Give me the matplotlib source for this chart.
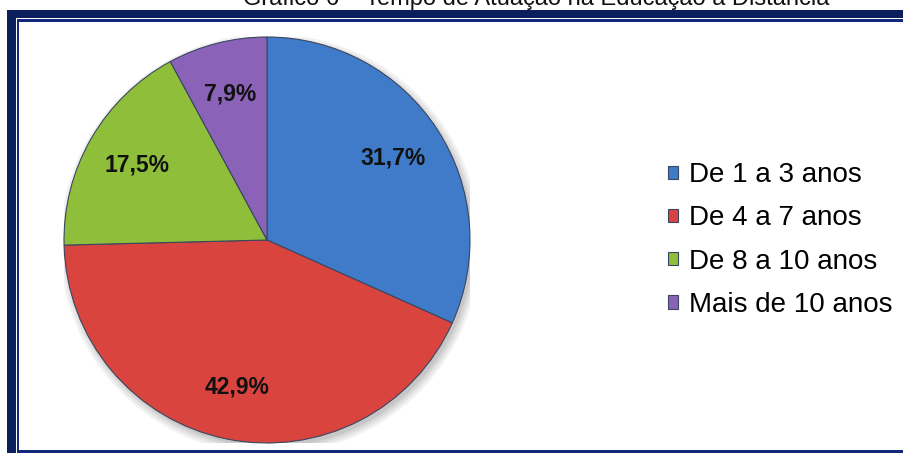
import matplotlib
matplotlib.use("Agg")
import matplotlib.pyplot as plt
from matplotlib.patches import Rectangle, Circle

plt.rcParams['font.family'] = ['Liberation Sans', 'DejaVu Sans']

categorias = ["De 1 a 3 anos", "De 4 a 7 anos", "De 8 a 10 anos", "Mais de 10 anos"]
percentuais = [31.7, 42.9, 17.5, 7.9]
cores = ["#3f7bc8", "#d9443f", "#8fbf3a", "#8a62b8"]
titulo = "Gráfico 6 – Tempo de Atuação na Educação a Distância"

W, H = 904, 453
fig = plt.figure(figsize=(W / 100, H / 100), dpi=100)

# fundo em pixels: moldura azul e titulo cortado
bg = fig.add_axes([0, 0, 1, 1])
bg.set_xlim(0, W)
bg.set_ylim(H, 0)
bg.axis("off")
navy = "#0b1f5c"
bg.add_patch(Rectangle((7, 10), W, H, color=navy, lw=0))
bg.add_patch(Rectangle((16, 18), W, H, color="white", lw=0))
bg.add_patch(Rectangle((17, 19), W, 434, color="#12287a", lw=0))
bg.add_patch(Rectangle((19, 22), W, 428, color="white", lw=0))
bg.text(536, 5, titulo, ha="center", va="baseline", fontsize=17, color="#111111")

# pizza
cx, cy, r = 267, 240, 203
ax = fig.add_axes([(cx - r) / W, (H - cy - r) / H, 2 * r / W, 2 * r / H])

# sombra suave
for k, a in enumerate([0.05, 0.05, 0.06, 0.07]):
    ax.add_patch(Circle((0.015, -0.02), 1.0 + 0.012 * (3 - k), color="black", alpha=a, lw=0, zorder=0))

wedges, texts, autotexts = ax.pie(
    percentuais, colors=cores, startangle=90, counterclock=False, radius=1.0,
    autopct=lambda p: f"{p:.1f}%".replace(".", ","), pctdistance=0.74,
    wedgeprops=dict(edgecolor="#3a4660", linewidth=0.8),
    textprops=dict(fontsize=16.5, fontweight="bold", color="#111111"),
)
for w in wedges:
    w.set_zorder(2)
for t in autotexts:
    t.set_zorder(3)
ax.set_xlim(-1, 1)
ax.set_ylim(-1, 1)
ax.set_aspect("equal")
ax.axis("off")

fig.legend(wedges, categorias, loc="center left", bbox_to_anchor=(668 / W, (H - 240) / H),
           frameon=False, fontsize=20, handlelength=0.36, handleheight=0.36,
           handletextpad=0.4, labelspacing=0.62, borderpad=0, borderaxespad=0)

fig.savefig("out.png", dpi=100)
